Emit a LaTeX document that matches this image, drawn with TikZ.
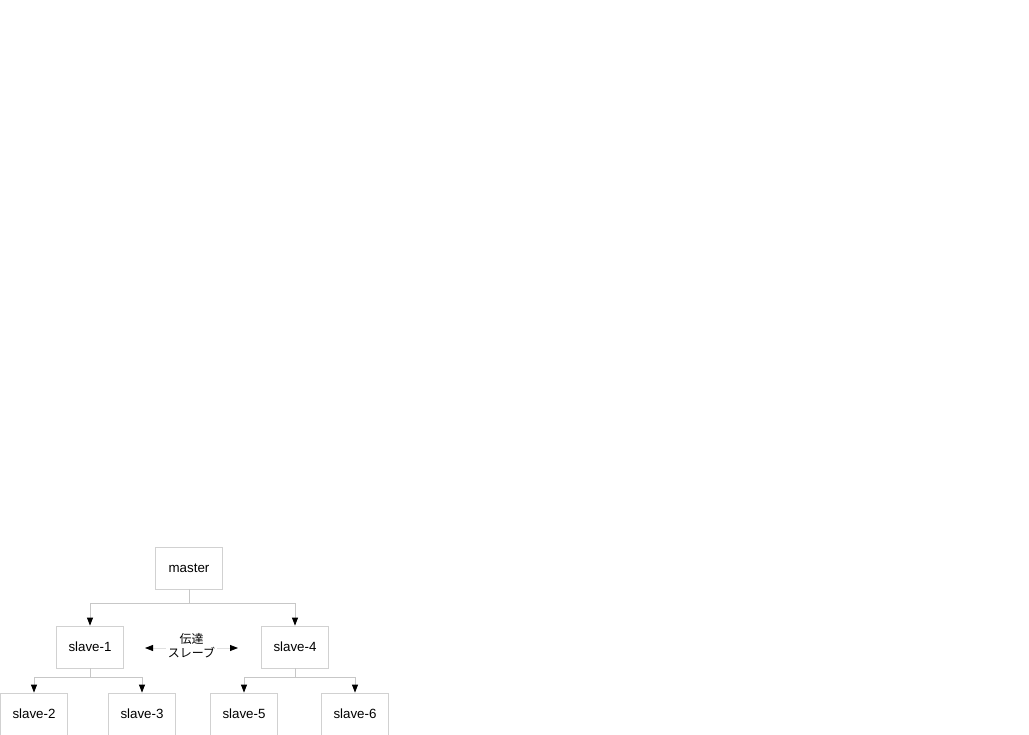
\documentclass[tikz,border=0pt]{standalone}
\usepackage{fontspec}
\setmainfont{Liberation Sans}
\newfontfamily\jpfont{Noto Sans CJK JP}
\usetikzlibrary{arrows.meta}
\begin{document}
\begin{tikzpicture}[x=0.75pt,y=-0.75pt,
  box/.style={draw=black!18,line width=0.6pt,minimum width=50pt,minimum height=31.5pt,inner sep=0pt,font=\fontsize{10}{12}\selectfont},
  conn/.style={draw=black!22,line width=0.6pt,-{Triangle[width=4.5pt,length=6pt,black]}},
  bus/.style={draw=black!22,line width=0.6pt}]
\useasboundingbox (0,0) rectangle (1029,735);
\node[box] (m) at (189,568) {master};
\node[box] (s1) at (90,647) {slave-1};
\node[box] (s4) at (295,647) {slave-4};
\node[box] (s2) at (34,714) {slave-2};
\node[box] (s3) at (142,714) {slave-3};
\node[box] (s5) at (244,714) {slave-5};
\node[box] (s6) at (355,714) {slave-6};
\draw[bus] (m.south) -- ++(0,14) coordinate (mj);
\draw[conn] (mj) -| (s1.north);
\draw[conn] (mj) -| (s4.north);
\draw[bus] (s1.south) -- ++(0,9) coordinate (aj);
\draw[conn] (aj) -| (s2.north);
\draw[conn] (aj) -| (s3.north);
\draw[bus] (s4.south) -- ++(0,9) coordinate (bj);
\draw[conn] (bj) -| (s5.north);
\draw[conn] (bj) -| (s6.north);
\coordinate (la) at (145,648);
\coordinate (ra) at (238,648);
\draw[draw=black!12,line width=0.6pt,{Triangle[width=4.5pt,length=6pt,black]}-{Triangle[width=4.5pt,length=6pt,black]}] (la) -- (ra)
  node[midway,fill=white,inner sep=1.5pt,align=center,font=\jpfont\fontsize{9}{10.5}\selectfont,yshift=1.5pt] (lbl) {伝達\\スレーブ};
\end{tikzpicture}
\end{document}
